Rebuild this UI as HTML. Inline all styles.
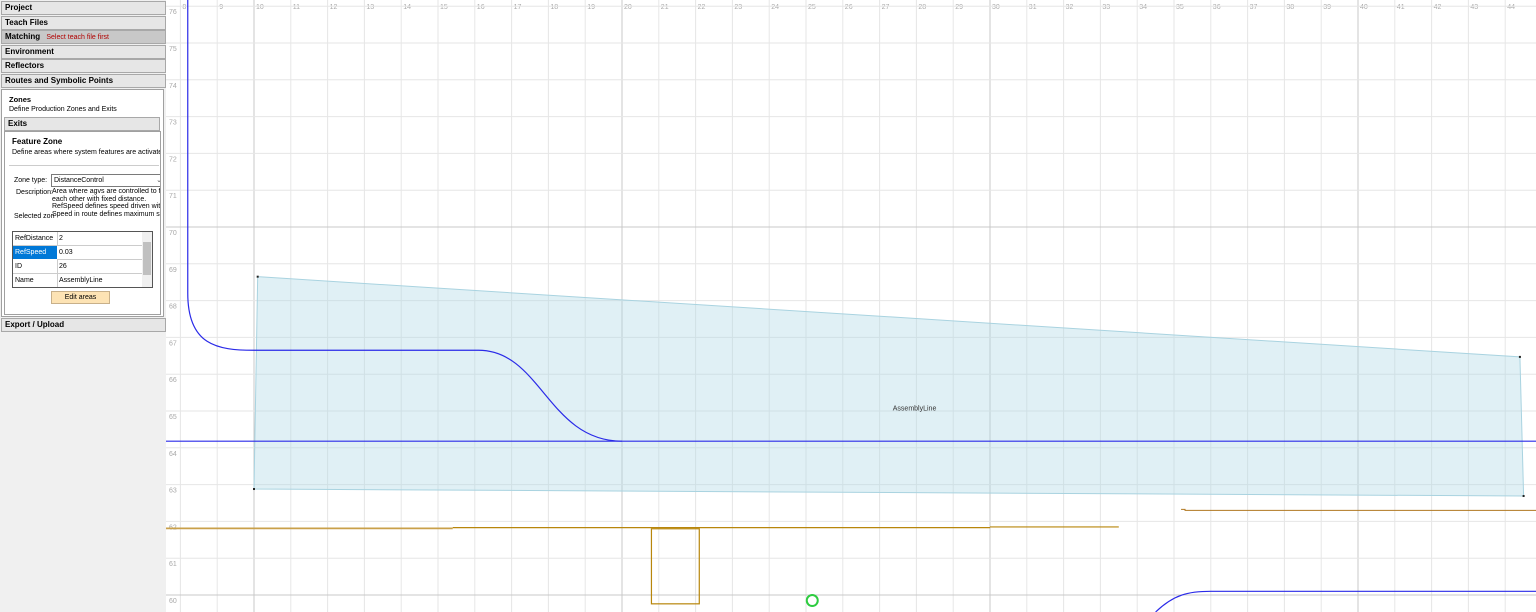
<!DOCTYPE html>
<html><head><meta charset="utf-8">
<style>
body{margin:0;width:1536px;height:612px;overflow:hidden;background:#fff;font-family:"Liberation Sans",sans-serif;}
#panel{position:absolute;left:0;top:0;width:166px;height:612px;background:#f0f0f0;}
.hdr{position:absolute;left:1px;width:160px;height:12px;border:1px solid #a8a8a8;background:#e6e6e6;font-size:8px;font-weight:bold;line-height:12px;padding-left:3px;box-sizing:content-box;}
.t{position:absolute;font-size:7px;color:#000;white-space:nowrap;}
#chart{position:absolute;left:166px;top:0;}
</style></head><body>
<div id="panel">
<div class="hdr" style="top:1px">Project</div>
<div class="hdr" style="top:16px">Teach Files</div>
<div class="hdr" style="top:30px;background:#c8c8c8">Matching <span style="color:#b00000;font-weight:normal;font-size:7px;margin-left:4px">Select teach file first</span></div>
<div class="hdr" style="top:45px">Environment</div>
<div class="hdr" style="top:59px">Reflectors</div>
<div class="hdr" style="top:74px">Routes and Symbolic Points</div>
<div style="position:absolute;left:1px;top:89px;width:161px;height:226px;background:#fff;border:1px solid #a0a0a0">
 <div class="t" style="left:7px;top:5px;font-weight:bold;font-size:7.5px">Zones</div>
 <div class="t" style="left:7px;top:16px">Define Production Zones and Exits</div>
 <div class="hdr" style="top:27px;left:2px;width:151px;background:#e6e6e6">Exits</div>
 <div style="position:absolute;left:2px;top:41px;width:155px;height:182px;border:1px solid #a0a0a0;overflow:hidden">
  <div class="t" style="left:7px;top:5px;font-weight:bold;font-size:8px">Feature Zone</div>
  <div class="t" style="left:7px;top:17px">Define areas where system features are activated</div>
  <div style="position:absolute;left:4px;top:33px;width:150px;border-top:1px solid #ccc"></div>
  <div class="t" style="left:9px;top:45px">Zone type:</div>
  <div style="position:absolute;left:46px;top:42px;width:112px;height:11px;border:1px solid #7a7a7a;font-size:7px;line-height:11px;padding-left:2px">DistanceControl<span style="position:absolute;right:4px;color:#555">&#8964;</span></div>
  <div class="t" style="left:11px;top:57px">Description:</div>
  <div class="t" style="left:47px;top:56px;line-height:7.5px;overflow:hidden;width:108px">Area where agvs are controlled to fo<br>each other with fixed distance.<br>RefSpeed defines speed driven with<br>Speed in route defines maximum spe</div>
  <div class="t" style="left:9px;top:81px">Selected zon</div>
  <div style="position:absolute;left:7px;top:99px;width:139px;height:55px;border:1px solid #555;background:#fff">
   <div style="position:absolute;left:0;top:0;width:128px;height:55px;font-size:7px">
    <div style="position:absolute;top:0;left:0;width:42px;height:13px;border-bottom:1px solid #ccc;border-right:1px solid #ccc;line-height:13px;padding-left:2px">RefDistance</div><div style="position:absolute;top:0;left:44px;width:84px;height:13px;border-bottom:1px solid #ccc;line-height:13px;padding-left:2px">2</div>
    <div style="position:absolute;top:14px;left:0;width:42px;height:13px;background:#0078d7;color:#fff;line-height:13px;padding-left:2px">RefSpeed</div><div style="position:absolute;top:14px;left:44px;width:84px;height:13px;border-bottom:1px solid #ccc;line-height:13px;padding-left:2px">0.03</div>
    <div style="position:absolute;top:28px;left:0;width:42px;height:13px;border-bottom:1px solid #ccc;border-right:1px solid #ccc;line-height:13px;padding-left:2px">ID</div><div style="position:absolute;top:28px;left:44px;width:84px;height:13px;border-bottom:1px solid #ccc;line-height:13px;padding-left:2px">26</div>
    <div style="position:absolute;top:42px;left:0;width:42px;height:13px;border-right:1px solid #ccc;line-height:13px;padding-left:2px">Name</div><div style="position:absolute;top:42px;left:44px;width:84px;height:13px;line-height:13px;padding-left:2px">AssemblyLine</div>
   </div>
   <div style="position:absolute;right:0;top:0;width:10px;height:55px;background:#f0f0f0"><div style="position:absolute;left:1px;top:10px;width:8px;height:33px;background:#c0c0c0"></div></div>
  </div>
  <div style="position:absolute;left:46px;top:159px;width:57px;height:11px;background:#fde3b4;border:1px solid #c8b08a;font-size:7px;line-height:11px;text-align:center">Edit areas</div>
 </div>
</div>
<div class="hdr" style="top:318px">Export / Upload</div>
</div>
<svg id="chart" width="1370" height="612"></svg>
<script>
const xTicks=[8,9,10,11,12,13,14,15,16,17,18,19,20,21,22,23,24,25,26,27,28,29,30,31,32,33,34,35,36,37,38,39,40,41,42,43,44];
const yTicks=[60,61,62,63,64,65,66,67,68,69,70,71,72,73,74,75,76];
const zoneX=[10.1,44.4,44.5,10];
const zoneY=[68.65,66.47,62.69,62.88];
const zoneName="AssemblyLine";
const mainLineY=64.18;
const orangeY=[61.81,61.83,61.85];
const orangeX=[7.6,15.4,30.0,33.5];
const stationX=[20.8,22.1];
const stationY=[61.8,59.76];
const rightOrangeX=[35.3,44.9];
const rightOrangeY=62.3;
const agvX=25.17, agvY=59.85;
const S=36.8, OX=166;
function X(v){return 254+(v-10)*S-OX;}
function Y(v){return 595-(v-60)*S;}
const svg=document.getElementById('chart');
const NS='http://www.w3.org/2000/svg';
function mk(tag,at){const e=document.createElementNS(NS,tag);for(const k in at)e.setAttribute(k,at[k]);svg.appendChild(e);return e;}
xTicks.forEach(v=>{
 const major=v%10===0;
 const l=mk('line',{x1:X(v),x2:X(v),y1:0,y2:612,stroke:major?'#c8c8c8':'#e6e6e6','stroke-width':1});
 
 
 const t=mk('text',{x:X(v)+2,y:9,'font-size':7,fill:'#a8a8a8'});t.textContent=v;
 
 
});
yTicks.forEach(v=>{
 const major=v%10===0;
 const l=mk('line',{x1:0,x2:1370,y1:Y(v),y2:Y(v),stroke:major?'#c8c8c8':'#e6e6e6','stroke-width':1});
 
 
 const t=mk('text',{x:3,y:Y(v)+8,'font-size':7,fill:'#a8a8a8'});t.textContent=v;
 
 
});
const pts=zoneX.map((x,i)=>X(x)+','+Y(zoneY[i])).join(' ');
const poly=mk('polygon',{points:pts,fill:'rgba(173,216,230,0.38)',stroke:'#a9d3e0','stroke-width':1});


zoneX.forEach((x,i)=>{const c=mk('rect',{x:X(x)-1,y:Y(zoneY[i])-1,width:2,height:2,fill:'#222'});
 
 });
const zl=mk('text',{x:X(27.95),y:Y(65.1)+3,'font-size':7,fill:'#333','text-anchor':'middle'});zl.textContent=zoneName;


const y66=Y(66.65), ym=Y(mainLineY);
const r1=mk('path',{d:`M${X(8.2)},0 L${X(8.2)},${Y(68.2)} C${X(8.2)},${y66-5} ${X(9)},${y66} ${X(10)},${y66} L${X(16.1)},${y66} C${X(17.8)},${y66} ${X(18)},${ym} ${X(20)},${ym}`,fill:'none',stroke:'#2a2ae8','stroke-width':1.2});


const r2=mk('line',{x1:0,x2:1370,y1:ym,y2:ym,stroke:'#2a2ae8','stroke-width':1.2});


const y591=Y(60.1);
const r3=mk('path',{d:`M${X(34.5)},612 C${X(35)},${y591+3} ${X(35.4)},${y591} ${X(36)},${y591} L1370,${y591}`,fill:'none',stroke:'#2a2ae8','stroke-width':1.2});


for(let i=0;i<3;i++){const o=mk('line',{x1:X(orangeX[i])<0?0:X(orangeX[i]),x2:X(orangeX[i+1]),y1:Y(orangeY[i]),y2:Y(orangeY[i]),stroke:i==0?'#c9a04a':'#b8860b','stroke-width':i==0?1.8:1.2});
 
 }
const st=mk('rect',{x:X(stationX[0]),y:Y(stationY[0]),width:X(stationX[1])-X(stationX[0]),height:Y(stationY[1])-Y(stationY[0]),fill:'none',stroke:'#b8860b','stroke-width':1.2});


const ro=mk('path',{d:`M${X(rightOrangeX[0])-4},${Y(rightOrangeY)-1} L${X(rightOrangeX[0])},${Y(rightOrangeY)-1} L${X(rightOrangeX[0])},${Y(rightOrangeY)} L${X(rightOrangeX[1])},${Y(rightOrangeY)}`,fill:'none',stroke:'#b07820','stroke-width':1});


const agv=mk('circle',{cx:X(agvX),cy:Y(agvY),r:5.5,fill:'none',stroke:'#2ecc40','stroke-width':2});


</script>
</body></html>
